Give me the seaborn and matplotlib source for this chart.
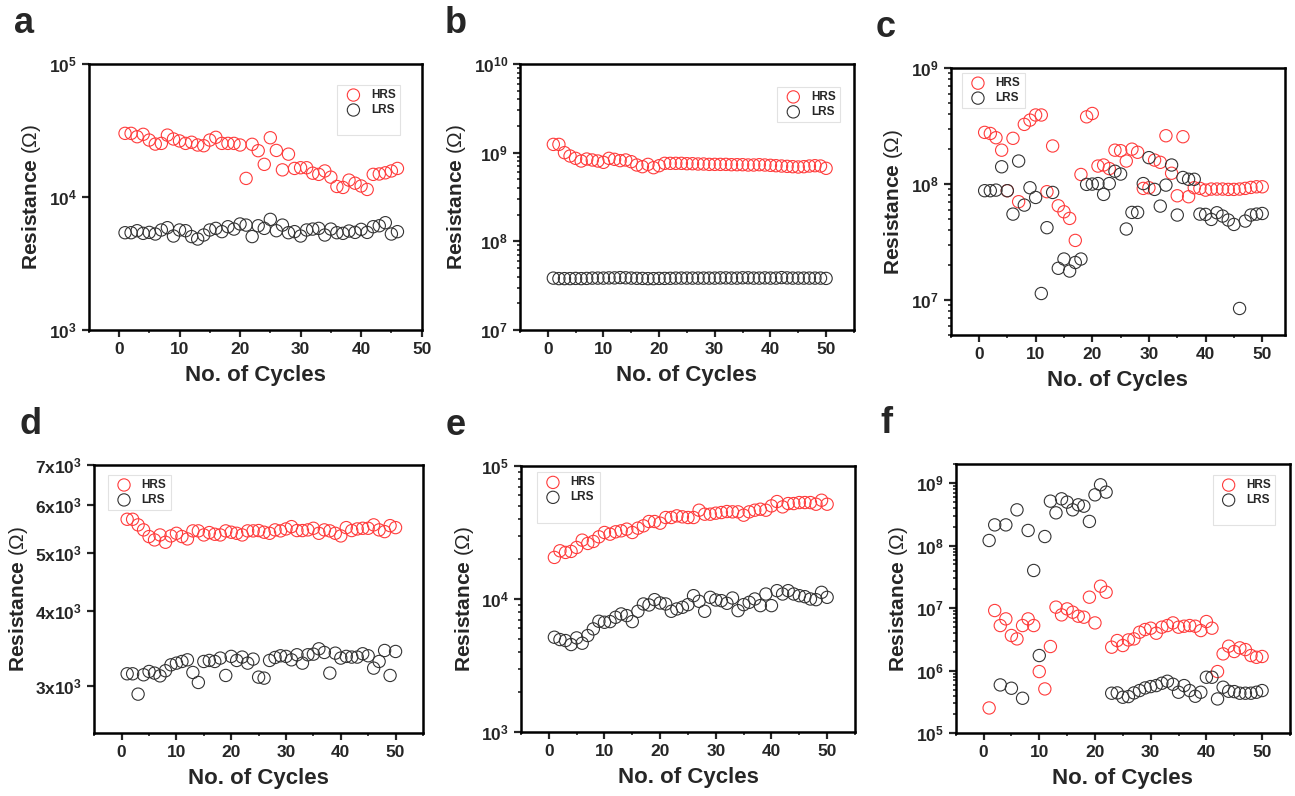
import numpy as np
import matplotlib
matplotlib.use("Agg")
import matplotlib.pyplot as plt
import seaborn as sns
from matplotlib.ticker import FixedLocator, MultipleLocator, LogLocator, NullFormatter, NullLocator, FuncFormatter
from matplotlib.lines import Line2D

sns.set_style("ticks")
plt.rcParams['font.family'] = ['Liberation Sans', 'DejaVu Sans']
plt.rcParams['mathtext.fontset'] = 'custom'
plt.rcParams['mathtext.rm'] = 'Liberation Sans'
plt.rcParams['mathtext.it'] = 'Liberation Sans:italic'
plt.rcParams['mathtext.bf'] = 'Liberation Sans:bold'

# ---- data ----
cycles_a = np.arange(1, 47)
hrs_a = [30100, 30100, 28400, 29600, 26800, 25000, 25300, 29200, 27300, 26400,
         25300, 25800, 24600, 24300, 26800, 28100, 25300, 25300, 25300, 24600,
         13800, 24900, 22300, 17600, 27900, 22400, 16000, 21000, 16400, 16600,
         16600, 15100, 14800, 15700, 14100, 12000, 11800, 13400, 12700, 12100,
         11400, 14800, 14900, 15200, 15700, 16400]
lrs_a = [5390, 5390, 5580, 5330, 5420, 5270, 5650, 5880, 5090, 5650,
         5580, 5040, 4830, 5180, 5650, 5810, 5490, 5980, 5740, 6270,
         6150, 5040, 6080, 5810, 6790, 5580, 6150, 5390, 5490, 5090,
         5650, 5740, 5810, 5180, 5740, 5390, 5330, 5550, 5420, 5710,
         5420, 5980, 6080, 6410, 5270, 5490]

cycles_b = np.arange(1, 51)
hrs_b = [1.24e9, 1.24e9, 1.0e9, 9.17e8, 8.63e8, 8.05e8, 8.48e8, 8.27e8, 8.05e8, 7.78e8,
         8.63e8, 8.41e8, 8.13e8, 8.27e8, 7.91e8, 7.26e8, 6.95e8, 7.38e8, 6.77e8, 7.13e8,
         7.58e8, 7.58e8, 7.58e8, 7.58e8, 7.51e8, 7.51e8, 7.45e8, 7.45e8, 7.38e8, 7.38e8,
         7.38e8, 7.38e8, 7.32e8, 7.32e8, 7.32e8, 7.26e8, 7.26e8, 7.32e8, 7.26e8, 7.20e8,
         7.13e8, 7.07e8, 7.01e8, 6.95e8, 6.89e8, 6.95e8, 7.07e8, 7.13e8, 7.07e8, 6.66e8]
lrs_b = [3.85e7, 3.8e7, 3.8e7, 3.8e7, 3.82e7, 3.8e7, 3.82e7, 3.85e7, 3.85e7, 3.85e7,
         3.87e7, 3.87e7, 3.9e7, 3.88e7, 3.85e7, 3.83e7, 3.82e7, 3.8e7, 3.8e7, 3.82e7,
         3.82e7, 3.83e7, 3.85e7, 3.85e7, 3.85e7, 3.85e7, 3.85e7, 3.85e7, 3.85e7, 3.85e7,
         3.87e7, 3.87e7, 3.85e7, 3.85e7, 3.88e7, 3.88e7, 3.85e7, 3.85e7, 3.87e7, 3.85e7,
         3.85e7, 3.9e7, 3.87e7, 3.85e7, 3.85e7, 3.85e7, 3.85e7, 3.85e7, 3.85e7, 3.82e7]

cycles_c = np.arange(1, 51)
hrs_c = [2.79e8, 2.73e8, 2.51e8, 1.96e8, 8.77e7, 2.48e8, 7.05e7, 3.27e8, 3.56e8, 3.94e8,
         3.94e8, 8.6e7, 2.13e8, 6.5e7, 5.77e7, 5.06e7, 3.27e7, 1.21e8, 3.80e8, 4.06e8,
         1.43e8, 1.46e8, 1.36e8, 1.96e8, 1.94e8, 1.58e8, 2.00e8, 1.88e8, 9.18e7, 9.3e7,
         1.61e8, 1.54e8, 2.61e8, 1.24e8, 7.93e7, 2.56e8, 7.78e7, 9.3e7, 9.18e7, 8.87e7,
         9.06e7, 9.06e7, 9.06e7, 9.0e7, 9.0e7, 9.06e7, 9.18e7, 9.36e7, 9.48e7, 9.48e7]
lrs_c = [8.77e7, 8.77e7, 8.87e7, 1.41e8, 8.77e7, 5.51e7, 1.58e8, 6.59e7, 9.3e7, 7.67e7,
         1.14e7, 4.21e7, 8.47e7, 1.88e7, 2.26e7, 1.78e7, 2.11e7, 2.26e7, 9.94e7, 1.0e8,
         1.01e8, 8.15e7, 1.01e8, 1.29e8, 1.22e8, 4.1e7, 5.7e7, 5.7e7, 1.01e8, 1.69e8,
         9.0e7, 6.46e7, 9.8e7, 1.46e8, 5.41e7, 1.14e8, 1.10e8, 1.10e8, 5.51e7, 5.48e7,
         4.96e7, 5.66e7, 5.3e7, 4.9e7, 4.49e7, 8.47e6, 4.8e7, 5.41e7, 5.51e7, 5.58e7]

cycles_d = np.arange(1, 51)
hrs_d = [5683, 5683, 5562, 5456, 5318, 5250, 5351, 5203, 5331, 5385,
         5318, 5270, 5435, 5435, 5351, 5400, 5365, 5351, 5435, 5407,
         5385, 5351, 5435, 5435, 5442, 5407, 5385, 5456, 5435, 5476,
         5525, 5442, 5442, 5456, 5490, 5385, 5456, 5435, 5385, 5331,
         5504, 5442, 5476, 5490, 5490, 5562, 5456, 5420, 5546, 5504]
lrs_d = [3139, 3139, 2903, 3127, 3167, 3147, 3114, 3176, 3249, 3270,
         3291, 3312, 3155, 3036, 3291, 3304, 3291, 3334, 3119, 3356,
         3304, 3347, 3270, 3321, 3099, 3087, 3304, 3342, 3364, 3356,
         3312, 3377, 3270, 3377, 3385, 3455, 3407, 3147, 3398, 3334,
         3356, 3347, 3347, 3390, 3364, 3208, 3291, 3433, 3119, 3420]

cycles_e = np.arange(1, 51)
hrs_e = [20540, 23040, 22390, 22780, 24400, 27700, 26150, 27070, 29340, 31620,
         30720, 31990, 32550, 33500, 31620, 34080, 35480, 38240, 38240, 37150,
         40980, 40980, 42170, 41450, 40980, 40980, 46500, 43400, 43400, 44160,
         44670, 45440, 45190, 45190, 42660, 45190, 46500, 47320, 46500, 50120,
         54010, 49260, 52180, 52180, 53090, 53090, 53090, 51580, 55270, 51580]
lrs_e = [5158, 4955, 4870, 4545, 5099, 4650, 5309, 5957, 6800, 6683,
         6761, 7286, 7720, 7499, 6761, 8082, 9173, 9016, 9886, 9333,
         9173, 8082, 8414, 8660, 9068, 10590, 9605, 8082, 10290, 9829,
         9716, 9279, 10170, 8174, 9068, 9441, 10000, 8913, 10900, 8913,
         11550, 10900, 11550, 10900, 10590, 10410, 10000, 9886, 11220, 10290]

cycles_f = np.arange(1, 51)
hrs_f = [2.54e5, 9.18e6, 5.28e6, 6.75e6, 3.66e6, 3.23e6, 5.28e6, 6.75e6, 5.28e6, 9.7e5,
         5.12e5, 2.44e6, 1.04e7, 7.82e6, 9.75e6, 8.63e6, 7.45e6, 7.18e6, 1.50e7, 5.82e6,
         2.25e7, 1.80e7, 2.38e6, 3.04e6, 2.53e6, 3.11e6, 3.23e6, 4.13e6, 4.56e6, 4.79e6,
         3.98e6, 4.97e6, 5.28e6, 5.82e6, 4.97e6, 5.15e6, 5.28e6, 5.15e6, 4.39e6, 6.12e6,
         4.79e6, 9.7e5, 1.86e6, 2.47e6, 2.03e6, 2.32e6, 2.18e6, 1.75e6, 1.64e6, 1.69e6]
lrs_f = [1.21e8, 2.15e8, 5.93e5, 2.15e8, 5.25e5, 3.74e8, 3.63e5, 1.75e8, 4.01e7, 1.75e6,
         1.40e8, 5.15e8, 3.35e8, 5.61e8, 4.97e8, 3.74e8, 4.5e8, 4.28e8, 2.44e8, 6.5e8,
         9.4e8, 7.18e8, 4.37e5, 4.42e5, 3.77e5, 3.86e5, 4.42e5, 4.82e5, 5.31e5, 5.58e5,
         5.79e5, 6.31e5, 6.79e5, 6.08e5, 4.53e5, 5.79e5, 4.82e5, 3.91e5, 4.53e5, 7.87e5,
         7.87e5, 3.54e5, 5.45e5, 4.7e5, 4.64e5, 4.37e5, 4.37e5, 4.37e5, 4.53e5, 4.82e5]

HRS_COLOR = '#ff3b3b'
LRS_COLOR = '#333333'

fig = plt.figure(figsize=(12.95, 7.96), dpi=100)

# axes rects in figure fraction
rects = {
    'a': [0.0685, 0.5854, 0.2571, 0.3342],
    'b': [0.4015, 0.5854, 0.2579, 0.3342],
    'c': [0.7341, 0.5791, 0.2581, 0.3354],
    'd': [0.0728, 0.0791, 0.2538, 0.3367],
    'e': [0.4023, 0.0804, 0.2579, 0.3342],
    'f': [0.7380, 0.0788, 0.2581, 0.3379],
}

pow_fmt = FuncFormatter(lambda v, p: r'$\mathbf{10^{%d}}$' % round(np.log10(v)))


def draw(key, x, hrs, lrs, xlim, ylim, yticks, minor, leg_loc, leg_anchor, tall_leg=False):
    ax = fig.add_axes(rects[key])
    sns.scatterplot(x=x, y=hrs, ax=ax, marker='o', s=78, facecolor='none',
                    edgecolor=HRS_COLOR, linewidth=0.8, label='HRS')
    sns.scatterplot(x=x, y=lrs, ax=ax, marker='o', s=78, facecolor='none',
                    edgecolor=LRS_COLOR, linewidth=0.8, label='LRS')
    ax.set_yscale('log')
    ax.set_xlim(*xlim)
    ax.set_ylim(*ylim)
    ax.xaxis.set_major_locator(MultipleLocator(10))
    ax.xaxis.set_minor_locator(MultipleLocator(5))
    ax.yaxis.set_major_locator(FixedLocator(yticks))
    if key == 'd':
        ax.yaxis.set_major_formatter(FuncFormatter(
            lambda v, p: r'$\mathbf{%dx10^{3}}$' % round(v / 1000)))
        ax.yaxis.set_minor_locator(NullLocator())
    else:
        ax.yaxis.set_major_formatter(pow_fmt)
        if minor:
            ax.yaxis.set_minor_locator(LogLocator(base=10, subs=np.arange(2, 10), numticks=20))
        else:
            ax.yaxis.set_minor_locator(NullLocator())
    ax.yaxis.set_minor_formatter(NullFormatter())
    for sp in ax.spines.values():
        sp.set_linewidth(1.8)
        sp.set_color('black')
    ax.tick_params(axis='both', which='major', direction='out', length=5, width=1.6,
                   labelsize=12.5, top=False, right=False)
    ax.tick_params(axis='both', which='minor', direction='out', length=2.5, width=1.2,
                   top=False, right=False)
    for lab in ax.get_xticklabels():
        lab.set_fontweight('bold')
    ax.set_xlabel('No. of Cycles', fontsize=16, fontweight='bold', labelpad=6)
    ax.set_ylabel(r'Resistance $(\Omega)$', fontsize=15, fontweight='bold', labelpad=4)

    handles, labels = ax.get_legend_handles_labels()
    if tall_leg:
        handles = handles + [Line2D([], [], linestyle='none')]
        labels = labels + ['']
    leg = ax.legend(handles, labels, loc=leg_loc, bbox_to_anchor=leg_anchor,
                    prop={'weight': 'bold', 'size': 8.5}, frameon=True, fancybox=False,
                    edgecolor='#e2e2e2', framealpha=1, borderpad=0.35,
                    labelspacing=0.25, handletextpad=0.5, borderaxespad=0)
    leg.get_frame().set_linewidth(0.8)

    fig.text(rects[key][0] - 0.058, rects[key][1] + rects[key][3] + 0.039, key,
             fontsize=26, fontweight='bold', ha='left', va='baseline')
    return ax


draw('a', cycles_a, hrs_a, lrs_a, (-5, 50), (1e3, 1e5), [1e3, 1e4, 1e5], False,
     'upper right', (0.935, 0.921), tall_leg=True)
draw('b', cycles_b, hrs_b, lrs_b, (-5, 55), (1e7, 1e10), [1e7, 1e8, 1e9, 1e10], True,
     'upper right', (0.958, 0.914))
draw('c', cycles_c, hrs_c, lrs_c, (-5, 54), (5e6, 1e9), [1e7, 1e8, 1e9], True,
     'upper left', (0.034, 0.981))
draw('d', cycles_d, hrs_d, lrs_d, (-5, 55), (2500, 7000), [3000, 4000, 5000, 6000, 7000], False,
     'upper left', (0.042, 0.963))
draw('e', cycles_e, hrs_e, lrs_e, (-5, 55), (1e3, 1e5), [1e3, 1e4, 1e5], True,
     'upper left', (0.048, 0.976), tall_leg=True)
draw('f', cycles_f, hrs_f, lrs_f, (-5, 55), (1e5, 2e9), [1e5, 1e6, 1e7, 1e8, 1e9], True,
     'upper right', (0.956, 0.96), tall_leg=True)

fig.savefig('out.png', dpi=100)
